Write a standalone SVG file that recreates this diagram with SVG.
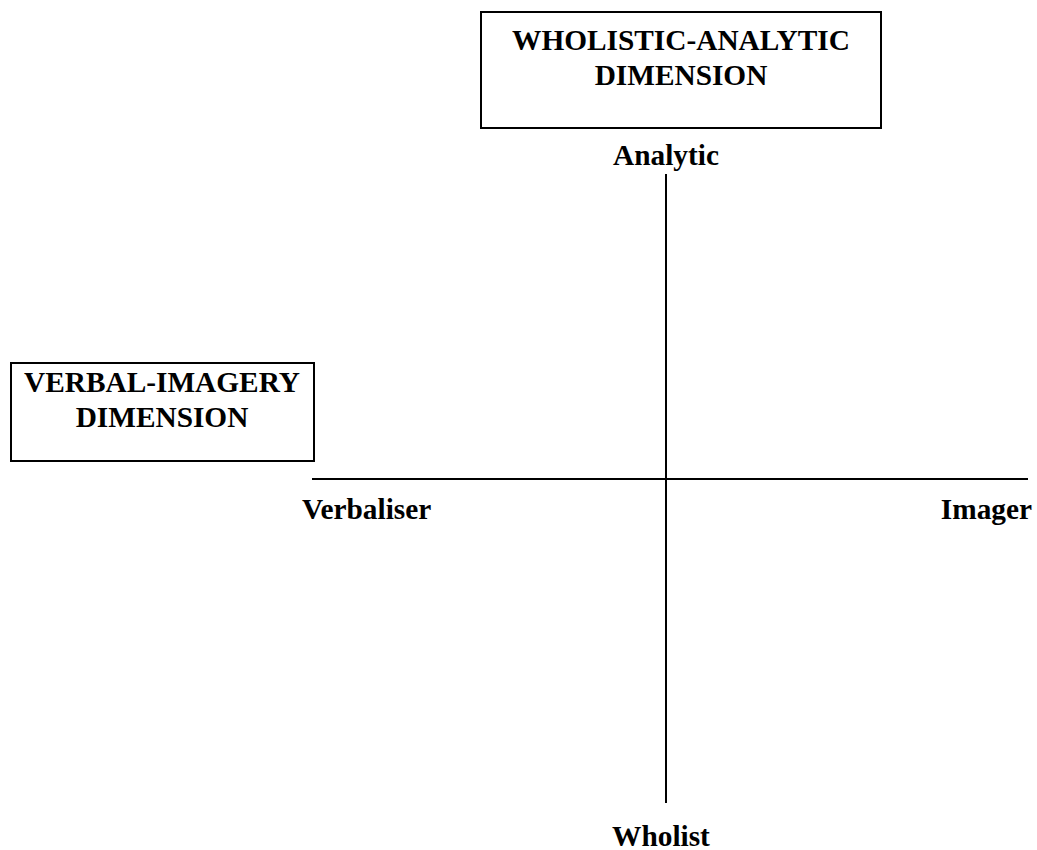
<svg xmlns="http://www.w3.org/2000/svg" width="1037" height="850" viewBox="0 0 1037 850">
<style>
.t{font-family:"Liberation Serif","Times New Roman",serif;font-weight:bold;font-size:29.33px;fill:#000}
.box{fill:#fff;stroke:#000;stroke-width:2}
.ax{stroke:#000;stroke-width:2;fill:none}
</style>
<rect width="1037" height="850" fill="#fff"/>
<g id="connectors">
<line class="ax" x1="312" y1="479" x2="1028" y2="479"/>
<line class="ax" x1="666" y1="174" x2="666" y2="803"/>
</g>
<g id="wholistic-analytic">
<rect class="box" x="481" y="12" width="400" height="116"/>
<text class="t" x="681" y="50" text-anchor="middle">WHOLISTIC-ANALYTIC</text>
<text class="t" x="681" y="85" text-anchor="middle">DIMENSION</text>
</g>
<g id="verbal-imagery">
<rect class="box" x="11" y="363" width="303" height="98"/>
<text class="t" x="162" y="392" text-anchor="middle">VERBAL-IMAGERY</text>
<text class="t" x="162" y="427" text-anchor="middle">DIMENSION</text>
</g>
<g id="analytic"><text class="t" x="666" y="165" text-anchor="middle">Analytic</text></g>
<g id="wholist"><text class="t" x="661" y="846" text-anchor="middle">Wholist</text></g>
<g id="verbaliser"><text class="t" x="302" y="519">Verbaliser</text></g>
<g id="imager"><text class="t" x="1032" y="519" text-anchor="end">Imager</text></g>
</svg>
